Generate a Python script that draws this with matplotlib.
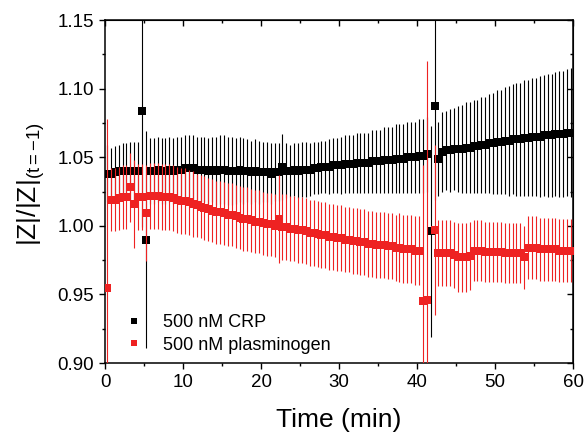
import numpy as np
import matplotlib
matplotlib.use("Agg")
import matplotlib.pyplot as plt
from matplotlib.lines import Line2D
from matplotlib.ticker import MultipleLocator, FormatStrFormatter, NullFormatter

plt.rcParams['font.family'] = ['Liberation Sans', 'DejaVu Sans']
plt.rcParams['mathtext.fontset'] = 'custom'
plt.rcParams['mathtext.rm'] = 'Liberation Sans'
plt.rcParams['mathtext.it'] = 'Liberation Sans:italic'

# time grid (min), one point every 30 s
t = np.arange(120) * 0.5 + 0.25

# 500 nM CRP (black)
crp = [1.038, 1.038, 1.039, 1.040, 1.040, 1.040, 1.040, 1.040, 1.040, 1.084,
       0.990, 1.040, 1.040, 1.041, 1.040, 1.040, 1.041, 1.040, 1.041, 1.041,
       1.042, 1.042, 1.042, 1.041, 1.041, 1.041, 1.040, 1.041, 1.040, 1.041,
       1.041, 1.040, 1.040, 1.040, 1.041, 1.040, 1.040, 1.039, 1.040, 1.039,
       1.039, 1.039, 1.038, 1.039, 1.039, 1.043, 1.040, 1.040, 1.041, 1.040,
       1.041, 1.041, 1.041, 1.042, 1.042, 1.043, 1.043, 1.043, 1.044, 1.044,
       1.044, 1.045, 1.045, 1.045, 1.046, 1.046, 1.046, 1.046, 1.047, 1.047,
       1.047, 1.048, 1.048, 1.048, 1.049, 1.049, 1.049, 1.050, 1.050, 1.050,
       1.051, 1.051, 1.052, 0.996, 1.087, 1.049, 1.054, 1.055, 1.055, 1.056,
       1.056, 1.056, 1.057, 1.057, 1.058, 1.058, 1.059, 1.059, 1.060, 1.060,
       1.061, 1.061, 1.062, 1.062, 1.063, 1.063, 1.063, 1.064, 1.064, 1.065,
       1.065, 1.065, 1.066, 1.066, 1.066, 1.067, 1.067, 1.067, 1.068, 1.068]
crp_err = [0.021, 0.019, 0.019, 0.019, 0.020, 0.020, 0.021, 0.021, 0.021, 0.085,
           0.079, 0.024, 0.024, 0.024, 0.024, 0.024, 0.024, 0.024, 0.024, 0.024,
           0.024, 0.024, 0.024, 0.024, 0.024, 0.024, 0.024, 0.024, 0.025, 0.025,
           0.025, 0.025, 0.025, 0.024, 0.024, 0.024, 0.023, 0.023, 0.023, 0.023,
           0.022, 0.022, 0.022, 0.021, 0.021, 0.024, 0.020, 0.019, 0.019, 0.020,
           0.020, 0.020, 0.019, 0.019, 0.019, 0.019, 0.019, 0.020, 0.020, 0.020,
           0.021, 0.021, 0.021, 0.021, 0.022, 0.022, 0.022, 0.022, 0.023, 0.023,
           0.023, 0.024, 0.024, 0.024, 0.025, 0.025, 0.025, 0.026, 0.026, 0.026,
           0.027, 0.027, 0.027, 0.077, 0.068, 0.027, 0.029, 0.029, 0.030, 0.030,
           0.031, 0.032, 0.033, 0.033, 0.034, 0.034, 0.035, 0.035, 0.036, 0.037,
           0.038, 0.038, 0.039, 0.040, 0.040, 0.041, 0.041, 0.042, 0.042, 0.043,
           0.043, 0.044, 0.044, 0.045, 0.045, 0.045, 0.046, 0.046, 0.046, 0.047]

# 500 nM plasminogen (red)
plg = [0.955, 1.019, 1.019, 1.020, 1.021, 1.021, 1.028, 1.016, 1.021, 1.021,
       1.009, 1.022, 1.022, 1.022, 1.021, 1.021, 1.021, 1.020, 1.019, 1.018,
       1.018, 1.017, 1.016, 1.015, 1.014, 1.013, 1.012, 1.011, 1.010, 1.010,
       1.009, 1.008, 1.008, 1.007, 1.006, 1.005, 1.005, 1.004, 1.003, 1.003,
       1.002, 1.001, 1.001, 1.000, 1.005, 0.999, 0.999, 0.998, 0.998, 0.997,
       0.997, 0.996, 0.995, 0.995, 0.994, 0.993, 0.993, 0.992, 0.992, 0.991,
       0.991, 0.990, 0.990, 0.989, 0.989, 0.988, 0.988, 0.987, 0.987, 0.986,
       0.986, 0.986, 0.985, 0.985, 0.984, 0.984, 0.983, 0.983, 0.983, 0.982,
       0.982, 0.945, 0.946, np.nan, 0.997, 0.980, 0.980, 0.980, 0.980, 0.979,
       0.977, 0.977, 0.977, 0.978, 0.982, 0.982, 0.982, 0.981, 0.981, 0.981,
       0.981, 0.981, 0.980, 0.980, 0.980, 0.980, 0.980, 0.977, 0.984, 0.984,
       0.984, 0.983, 0.983, 0.983, 0.983, 0.983, 0.982, 0.982, 0.982, 0.982]
plg_err = [0.123, 0.023, 0.023, 0.023, 0.023, 0.023, 0.025, 0.032, 0.024, 0.024,
           0.035, 0.024, 0.024, 0.024, 0.024, 0.024, 0.024, 0.024, 0.024, 0.024,
           0.024, 0.024, 0.024, 0.023, 0.023, 0.023, 0.023, 0.023, 0.023, 0.023,
           0.023, 0.023, 0.023, 0.023, 0.023, 0.023, 0.023, 0.023, 0.023, 0.023,
           0.023, 0.023, 0.023, 0.023, 0.032, 0.024, 0.024, 0.024, 0.024, 0.024,
           0.024, 0.024, 0.024, 0.024, 0.024, 0.024, 0.024, 0.024, 0.024, 0.024,
           0.024, 0.024, 0.024, 0.024, 0.024, 0.024, 0.024, 0.024, 0.024, 0.024,
           0.024, 0.024, 0.024, 0.024, 0.024, 0.025, 0.025, 0.025, 0.025, 0.025,
           0.025, 0.099, 0.174, np.nan, 0.062, 0.024, 0.024, 0.024, 0.024, 0.024,
           0.025, 0.025, 0.025, 0.025, 0.022, 0.022, 0.022, 0.022, 0.022, 0.022,
           0.022, 0.022, 0.022, 0.022, 0.022, 0.022, 0.022, 0.023, 0.023, 0.023,
           0.023, 0.023, 0.023, 0.023, 0.023, 0.023, 0.023, 0.023, 0.023, 0.023]

labels = ["500 nM CRP", "500 nM plasminogen"]
black = "#000000"
red = "#ee2222"

fig = plt.figure(figsize=(5.84, 4.32), dpi=100)
ax = fig.add_axes([0.1798, 0.1597, 0.8014, 0.794])

ax.errorbar(t, crp, yerr=crp_err, fmt='s', color=black, ms=5.2, mew=0,
            ecolor=black, elinewidth=0.8, capsize=2.8, capthick=0.8, zorder=3)
ax.errorbar(t, plg, yerr=plg_err, fmt='s', color=red, ms=5.2, mew=0,
            ecolor=red, elinewidth=0.8, capsize=2.8, capthick=0.8, zorder=4)

ax.set_xlim(0, 60)
ax.set_ylim(0.90, 1.15)
ax.xaxis.set_major_locator(MultipleLocator(10))
ax.xaxis.set_minor_locator(MultipleLocator(5))
ax.yaxis.set_major_locator(MultipleLocator(0.05))
ax.yaxis.set_minor_locator(MultipleLocator(0.025))
ax.yaxis.set_major_formatter(FormatStrFormatter('%.2f'))
ax.tick_params(which='both', direction='out', labelsize=13.5, width=1)
ax.tick_params(which='major', length=4.5)
ax.tick_params(which='minor', length=2.5)

# inward ticks on top and right, no labels
top = ax.secondary_xaxis('top')
top.xaxis.set_major_locator(MultipleLocator(10))
top.xaxis.set_minor_locator(MultipleLocator(5))
top.xaxis.set_major_formatter(NullFormatter())
top.tick_params(which='both', direction='in', width=1)
top.tick_params(which='major', length=4.5)
top.tick_params(which='minor', length=2.5)
right = ax.secondary_yaxis('right')
right.yaxis.set_major_locator(MultipleLocator(0.05))
right.yaxis.set_minor_locator(MultipleLocator(0.025))
right.yaxis.set_major_formatter(NullFormatter())
right.tick_params(which='both', direction='in', width=1)
right.tick_params(which='major', length=4.5)
right.tick_params(which='minor', length=2.5)

for s in ax.spines.values():
    s.set_linewidth(1.1)

ax.set_xlabel("Time (min)", fontsize=19, labelpad=12)
ax.set_ylabel(r"$\mathregular{|Z|/|Z|_{(t=-1)}}$", fontsize=19)
ax.yaxis.set_label_coords(-0.125, 0.52)

handles = [Line2D([], [], ls='none', marker='s', ms=5, mew=0, color=black),
           Line2D([], [], ls='none', marker='s', ms=5, mew=0, color=red)]
ax.legend(handles, labels, loc='lower left', bbox_to_anchor=(0.005, -0.02),
          frameon=False, fontsize=13, handlelength=1.2, handletextpad=1.0,
          labelspacing=0.3)

fig.savefig("out.png", dpi=100)
